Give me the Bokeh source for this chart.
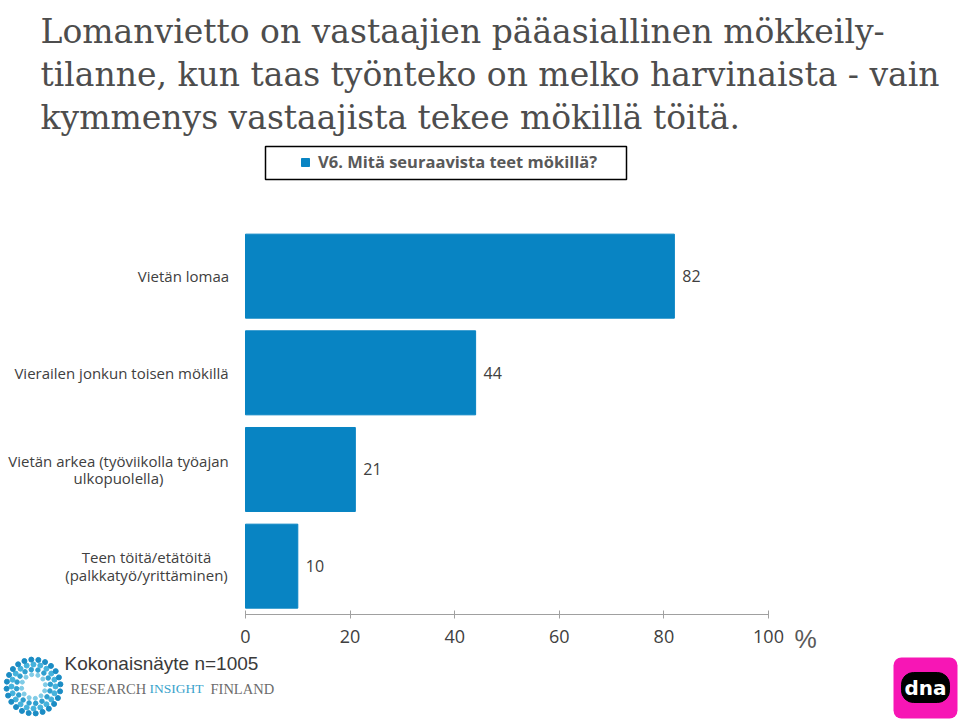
import numpy as np
from bokeh.plotting import figure
from bokeh.layouts import column
from bokeh.models import (Range1d, ColumnDataSource, Label, Legend, LegendItem,
                          FixedTicker, BoxAnnotation)
from bokeh.core.properties import value
from bokeh.embed import file_html
from bokeh.resources import INLINE

categories = ["Vietän lomaa",
              "Vierailen jonkun toisen mökillä",
              "Vietän arkea (työviikolla työajan\nulkopuolella)",
              "Teen töitä/etätöitä\n(palkkatyö/yrittäminen)"]
values = [82, 44, 21, 10]
x_ticks = [0, 20, 40, 60, 80, 100]
series_name = "V6. Mitä seuraavista teet mökillä?"
title_lines = ["Lomanvietto on vastaajien pääasiallinen mökkeily-",
               "tilanne, kun taas työnteko on melko harvinaista - vain",
               "kymmenys vastaajista tekee mökillä töitä."]
unit_label = "%"
sample_note = "Kokonaisnäyte n=1005"
brand_words = ["RESEARCH", "INSIGHT", "FINLAND"]

# style: half width (px) of each category label block, used to centre its lines
label_half_w = [45, 107, 110, 82]

BLUE = "#0884c3"
GREY = "#404040"

W = 960
FRAME_H = 614          # bars frame: from the top of the page down to the axis line
MAIN_H = 660
FOOT_TOP = 624
FOOT_H = 721 - FOOT_TOP

# x scale: 0 at 245 px, 100 at 768 px
k = (768 - 245) / 100.0
x_range = Range1d(-245 / k, (W - 245) / k)
pitch = 96.67
n = len(categories)
y_pos = [n - i - 0.5 for i in range(n)]

p = figure(width=W, height=MAIN_H, output_backend="svg", toolbar_location=None,
           x_range=x_range, y_range=Range1d(0, FRAME_H / pitch), y_axis_location=None,
           min_border_left=0, min_border_right=0, min_border_top=0,
           min_border_bottom=MAIN_H - FRAME_H)
p.outline_line_color = None
p.grid.grid_line_color = None

src = ColumnDataSource(dict(y=y_pos, cat=categories, val=values, lab=[str(v) for v in values],
                            xo=[-(17 + h) for h in label_half_w]))
r = p.hbar(y="y", right="val", left=0, height=0.869, color=BLUE, source=src)
p.text(x="val", y="y", text="lab", source=src, x_offset=8, text_baseline="middle",
       text_font=value("Open Sans"), text_font_size="16px", text_color=GREY)
p.text(x=0, y="y", text="cat", source=src, x_offset="xo", text_align="center",
       text_baseline="middle", text_line_height=0.88,
       text_font=value("Open Sans"), text_font_size="15px", text_color=GREY)

xa = p.xaxis[0]
xa.bounds = (0, 100)
xa.ticker = FixedTicker(ticks=x_ticks)
xa.axis_line_color = "#a0a0a0"
xa.major_tick_line_color = "#a0a0a0"
xa.major_tick_in = 4
xa.major_tick_out = 4
xa.minor_tick_line_color = None
xa.major_label_standoff = 11
xa.major_label_text_font = "Open Sans"
xa.major_label_text_font_size = "18px"
xa.major_label_text_color = GREY

baselines = [31, 74, 117]
for t, b in zip(title_lines, baselines):
    p.add_layout(Label(x=40, y=FRAME_H - b, x_units="screen", y_units="screen", text=t,
                       text_font="DejaVu Serif", text_font_size="33px", text_color="#4d4d4d",
                       text_baseline="alphabetic"))

p.add_layout(BoxAnnotation(left=265, right=626, bottom=FRAME_H - 179, top=FRAME_H - 146,
                           left_units="screen", right_units="screen",
                           bottom_units="screen", top_units="screen",
                           fill_color=None, line_color="black", line_alpha=1, line_width=1.5))
legend = Legend(items=[LegendItem(label=series_name, renderers=[r])],
                location=(300, FRAME_H - 173), padding=0, margin=0, glyph_width=10, glyph_height=10,
                label_standoff=8, border_line_color=None, background_fill_color=None,
                label_text_font="Open Sans", label_text_font_size="16.5px",
                label_text_font_style="bold", label_text_color="#595959", label_height=20)
p.add_layout(legend, "center")

# footer, drawn over the lower part of the page (transparent)
f = figure(width=W, height=FOOT_H, output_backend="svg", toolbar_location=None,
           x_range=x_range, y_range=Range1d(0, FOOT_H), x_axis_location=None, y_axis_location=None,
           min_border=0, margin=(-(MAIN_H - FOOT_TOP), 0, 0, 0))
f.extra_x_ranges = {"px": Range1d(0, W)}
f.outline_line_color = None
f.grid.grid_line_color = None
f.background_fill_color = None
f.border_fill_color = None

def fy(y):
    return 721 - y

f.text(x=[100], y=[fy(638)], text=[unit_label], x_offset=26, text_baseline="middle",
       text_font=value("Liberation Sans"), text_font_size="25px", text_color="#595959")
f.add_layout(Label(x=64, y=fy(663), x_units="screen", y_units="screen", text=sample_note,
                   text_font="Liberation Sans", text_font_size="19px", text_color="#3a3a3a",
                   text_baseline="middle"))
for t, x, c, s in zip(brand_words, [70, 149, 210], ["#6b6b6b", "#3aa3cc", "#6b6b6b"],
                      ["14.5px", "13.5px", "14.5px"]):
    f.add_layout(Label(x=x, y=fy(688), x_units="screen", y_units="screen", text=t,
                       text_font="Liberation Serif", text_font_size=s, text_color=c,
                       text_baseline="middle"))

# dotted ring logo (decoration)
cx, cy = 33, fy(686)
ring_r = [12, 17, 22, 27]
ring_n = [12, 16, 20, 24]
ring_c = ["#7fcbe6", "#2f9fcf", "#45b2dc", "#1b8cc4"]
ring_s = [4, 4.5, 5, 5]
for rr, nn, cc, ss in zip(ring_r, ring_n, ring_c, ring_s):
    a = np.arange(nn) * 2 * np.pi / nn + rr * 0.1
    f.scatter(cx + rr * np.cos(a), cy + rr * np.sin(a), size=ss, color=cc, x_range_name="px")

# dna logo (decoration)
f.add_layout(BoxAnnotation(left=893, right=957, bottom=fy(718), top=fy(657),
                           left_units="screen", right_units="screen",
                           bottom_units="screen", top_units="screen",
                           fill_color="#f716b5", fill_alpha=1, line_color=None, border_radius=8))
f.add_layout(Label(x=925, y=fy(687), x_units="screen", y_units="screen", text="dna",
                   text_align="center", text_baseline="middle", text_font="DejaVu Sans",
                   text_font_size="20px", text_font_style="bold", text_color="white",
                   background_fill_color="black", border_line_color="black",
                   padding=3, border_radius=12))

layout = column(p, f, spacing=0)
open("out.html", "w").write(file_html(layout, INLINE))
